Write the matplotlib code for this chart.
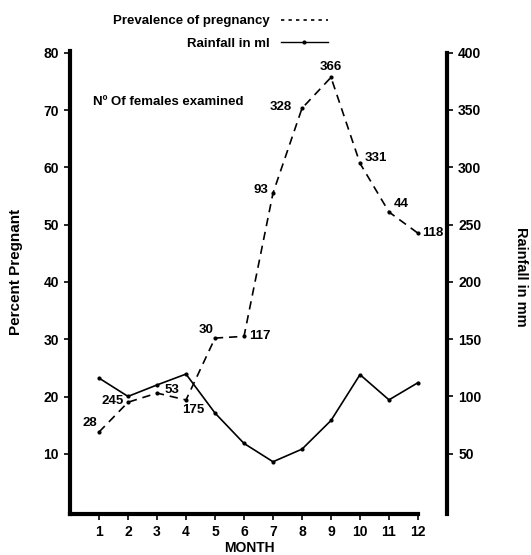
import matplotlib
matplotlib.use("Agg")
import matplotlib.pyplot as plt
from matplotlib.lines import Line2D

plt.rcParams['font.family'] = ['Liberation Sans', 'DejaVu Sans']
plt.rcParams['font.weight'] = 'bold'

months = [1, 2, 3, 4, 5, 6, 7, 8, 9, 10, 11, 12]
pregnancy_pct = [13.8, 19.0, 20.6, 19.4, 30.2, 30.5, 55.5, 70.3, 75.7, 60.7, 52.2, 48.5]
rainfall_mm = [116, 100, 110, 119.5, 85.5, 59, 43, 54, 79, 119, 97, 112]
n_examined = ['28', '245', '53', '175', '30', '117', '93', '328', '366', '331', '44', '118']
# label offsets (pixels) and alignment
lab_dx = [-2, -4, 8, 7, -1, 5, -5, -10, 0, 5, 5, 4]
lab_dy = [9, 1, 3, -10, 8, 0, 3, 1, 10, 5, 8, 0]
lab_ha = ['right', 'right', 'left', 'center', 'right', 'left', 'right', 'right', 'center', 'left', 'left', 'left']

W, H = 531, 555
fig = plt.figure(figsize=(W / 100, H / 100), dpi=100)
ax = fig.add_axes([70 / W, (H - 514) / H, (447 - 70) / W, (514 - 51) / H])
ax2 = ax.twinx()

ax.set_xlim(0, 13)
ax.set_ylim(-0.5, 80.3)
ax2.set_ylim(-2.6, 401.4)

ax.plot(months, pregnancy_pct, color='black', lw=1.2, ls=(0, (5, 3.5)),
        marker='o', ms=2, zorder=3)
ax2.plot(months, rainfall_mm, color='black', lw=1.2, ls='-',
         marker='o', ms=2, zorder=3)

fs = 9.5
for m, p, t, dx, dy, ha in zip(months, pregnancy_pct, n_examined, lab_dx, lab_dy, lab_ha):
    ax.annotate(t, (m, p), xytext=(dx, dy), textcoords='offset pixels',
                ha=ha, va='center', fontsize=fs, fontweight='bold')

ax.text(0.06, 0.89, 'Nº Of females examined', transform=ax.transAxes,
        fontsize=fs, fontweight='bold', ha='left', va='center')

# spines
for s in ['top', 'right']:
    ax.spines[s].set_visible(False)
for s in ['top', 'left', 'bottom']:
    ax2.spines[s].set_visible(False)
ax.spines['left'].set_linewidth(3)
ax.spines['bottom'].set_linewidth(3)
ax.spines['bottom'].set_bounds(0, 12)
ax2.spines['right'].set_linewidth(3)
ax2.spines['right'].set_bounds(-2.6, 400)

ax.set_xticks(months)
ax.set_yticks([10, 20, 30, 40, 50, 60, 70, 80])
ax2.set_yticks([50, 100, 150, 200, 250, 300, 350, 400])
ax.tick_params(axis='both', direction='out', length=4, width=1.2, labelsize=10, pad=4)
ax2.tick_params(axis='y', direction='out', length=4, width=1.2, labelsize=10, pad=4)
for lab in ax.get_xticklabels() + ax.get_yticklabels() + ax2.get_yticklabels():
    lab.set_fontweight('bold')

fig.text(249 / W, 1 - 548 / H, 'MONTH', ha='center', va='center',
         fontsize=10, fontweight='bold')
fig.text(16 / W, 1 - 272 / H, 'Percent Pregnant', rotation=90, ha='center', va='center',
         fontsize=11, fontweight='bold')
fig.text(521 / W, 1 - 277 / H, 'Rainfall in mm', rotation=270, ha='center', va='center',
         fontsize=10.5, fontweight='bold')

handles = [Line2D([], [], color='black', lw=1.2, ls=(0, (2, 2.5))),
           Line2D([], [], color='black', lw=1, ls='-', marker='o', ms=2, markevery=[0, -1])]
fig.legend(handles, ['Prevalence of pregnancy', 'Rainfall in ml'], loc='upper right',
           bbox_to_anchor=(328 / W, 1 - 15 / H), markerfirst=False, frameon=False,
           handlelength=3.6, handletextpad=0.8, labelspacing=0.8, borderaxespad=0,
           borderpad=0, prop={'weight': 'bold', 'size': fs})

fig.savefig('out.png', dpi=100)
